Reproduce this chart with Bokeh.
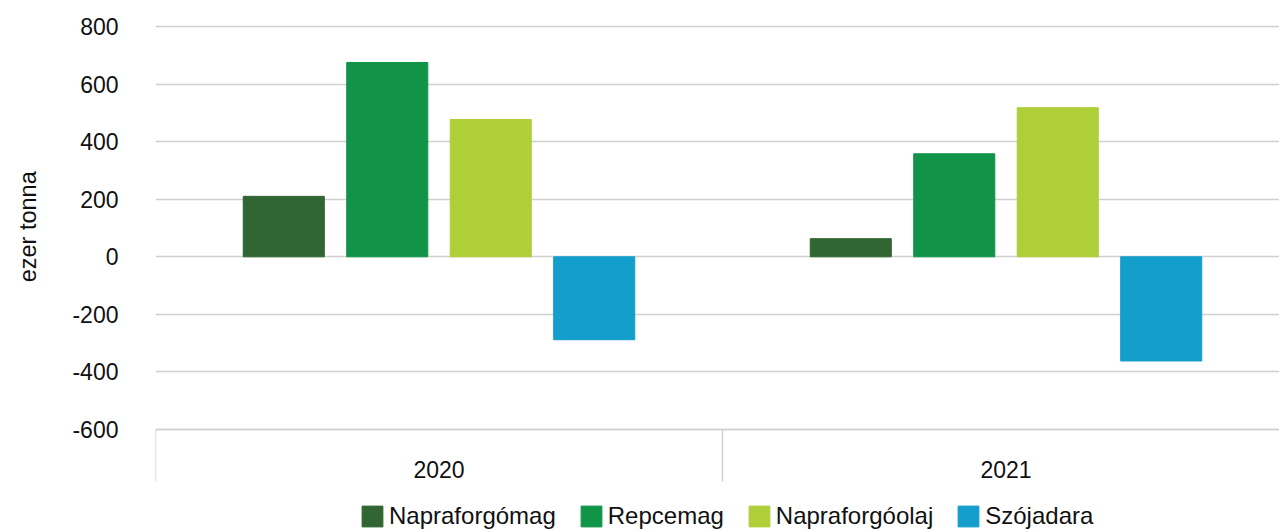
from bokeh.plotting import figure
from bokeh.models import FixedTicker, Range1d, Legend, LegendItem, ColumnDataSource
from bokeh.embed import file_html
from bokeh.resources import INLINE

years = ["2020", "2021"]
series = ["Napraforgómag", "Repcemag", "Napraforgóolaj", "Szójadara"]
napraforgomag = [210, 63]
repcemag = [675, 358]
napraforgoolaj = [477, 518]
szojadara = [-288, -362]
colors = ["#316531", "#119448", "#AFCF38", "#139ECB"]
y_ticks = [-600, -400, -200, 0, 200, 400, 600, 800]

values = [napraforgomag, repcemag, napraforgoolaj, szojadara]
FONT = "Liberation Sans"
TXT = "#111111"

p = figure(frame_width=1124, frame_height=531, output_backend="svg", toolbar_location=None,
           x_range=Range1d(0, 1124 / 567), y_range=Range1d(-954.3, 890.4),
           min_border_left=155, min_border_right=0, min_border_top=0, min_border_bottom=0)
p.outline_line_color = None

pitch = 0.1825
bw = 0.143
items = []
for i, (name, vals, c) in enumerate(zip(series, values, colors)):
    xs = [j + 0.5 + (i - 1.5) * pitch for j in range(len(years))]
    src = ColumnDataSource(dict(x=xs, top=vals))
    r = p.vbar(x="x", top="top", bottom=0, width=bw, source=src,
               fill_color=c, line_color=c, line_width=1)
    items.append(LegendItem(label=name, renderers=[r]))

# x axis, pinned at the bottom value of the value scale
xa = p.xaxis[0]
xa.fixed_location = y_ticks[0]
xa.ticker = FixedTicker(ticks=[j + 0.5 for j in range(len(years))],
                        minor_ticks=list(range(len(years) + 1)))
xa.major_label_overrides = {j + 0.5: y for j, y in enumerate(years)}
xa.major_tick_line_color = None
xa.major_tick_out = 0
xa.major_tick_in = 0
xa.minor_tick_out = 52
xa.minor_tick_in = 0
xa.minor_tick_line_color = "#d0d0d0"
xa.minor_tick_line_width = 1.5
xa.axis_line_color = "#d0d0d0"
xa.axis_line_width = 1.5
xa.major_label_text_font = FONT
xa.major_label_text_font_size = "23px"
xa.major_label_text_color = TXT
xa.major_label_standoff = -21

# y axis
ya = p.yaxis[0]
ya.ticker = FixedTicker(ticks=y_ticks)
ya.major_label_overrides = {t: str(t) for t in y_ticks}
ya.axis_line_color = None
ya.major_tick_line_color = None
ya.minor_tick_line_color = None
ya.major_label_text_font = FONT
ya.major_label_text_font_size = "23px"
ya.major_label_text_color = TXT
ya.major_label_standoff = 31
ya.axis_label = "\u00a0" * 12 + "ezer tonna"
ya.axis_label_text_font = FONT
ya.axis_label_text_font_size = "23.5px"
ya.axis_label_text_font_style = "normal"
ya.axis_label_text_color = TXT
ya.axis_label_standoff = 28

p.xgrid.grid_line_color = None
p.ygrid.grid_line_color = "#d0d0d0"
p.ygrid.grid_line_width = 1.5

legend = Legend(items=items, orientation="horizontal", location=(204, 1),
                label_text_font=FONT, label_text_font_size="24px",
                label_text_color=TXT, glyph_width=26, glyph_height=26,
                label_standoff=4, spacing=22, padding=0, margin=0,
                border_line_color=None, background_fill_alpha=0)
p.add_layout(legend)

open("out.html", "w").write(file_html(p, INLINE))
